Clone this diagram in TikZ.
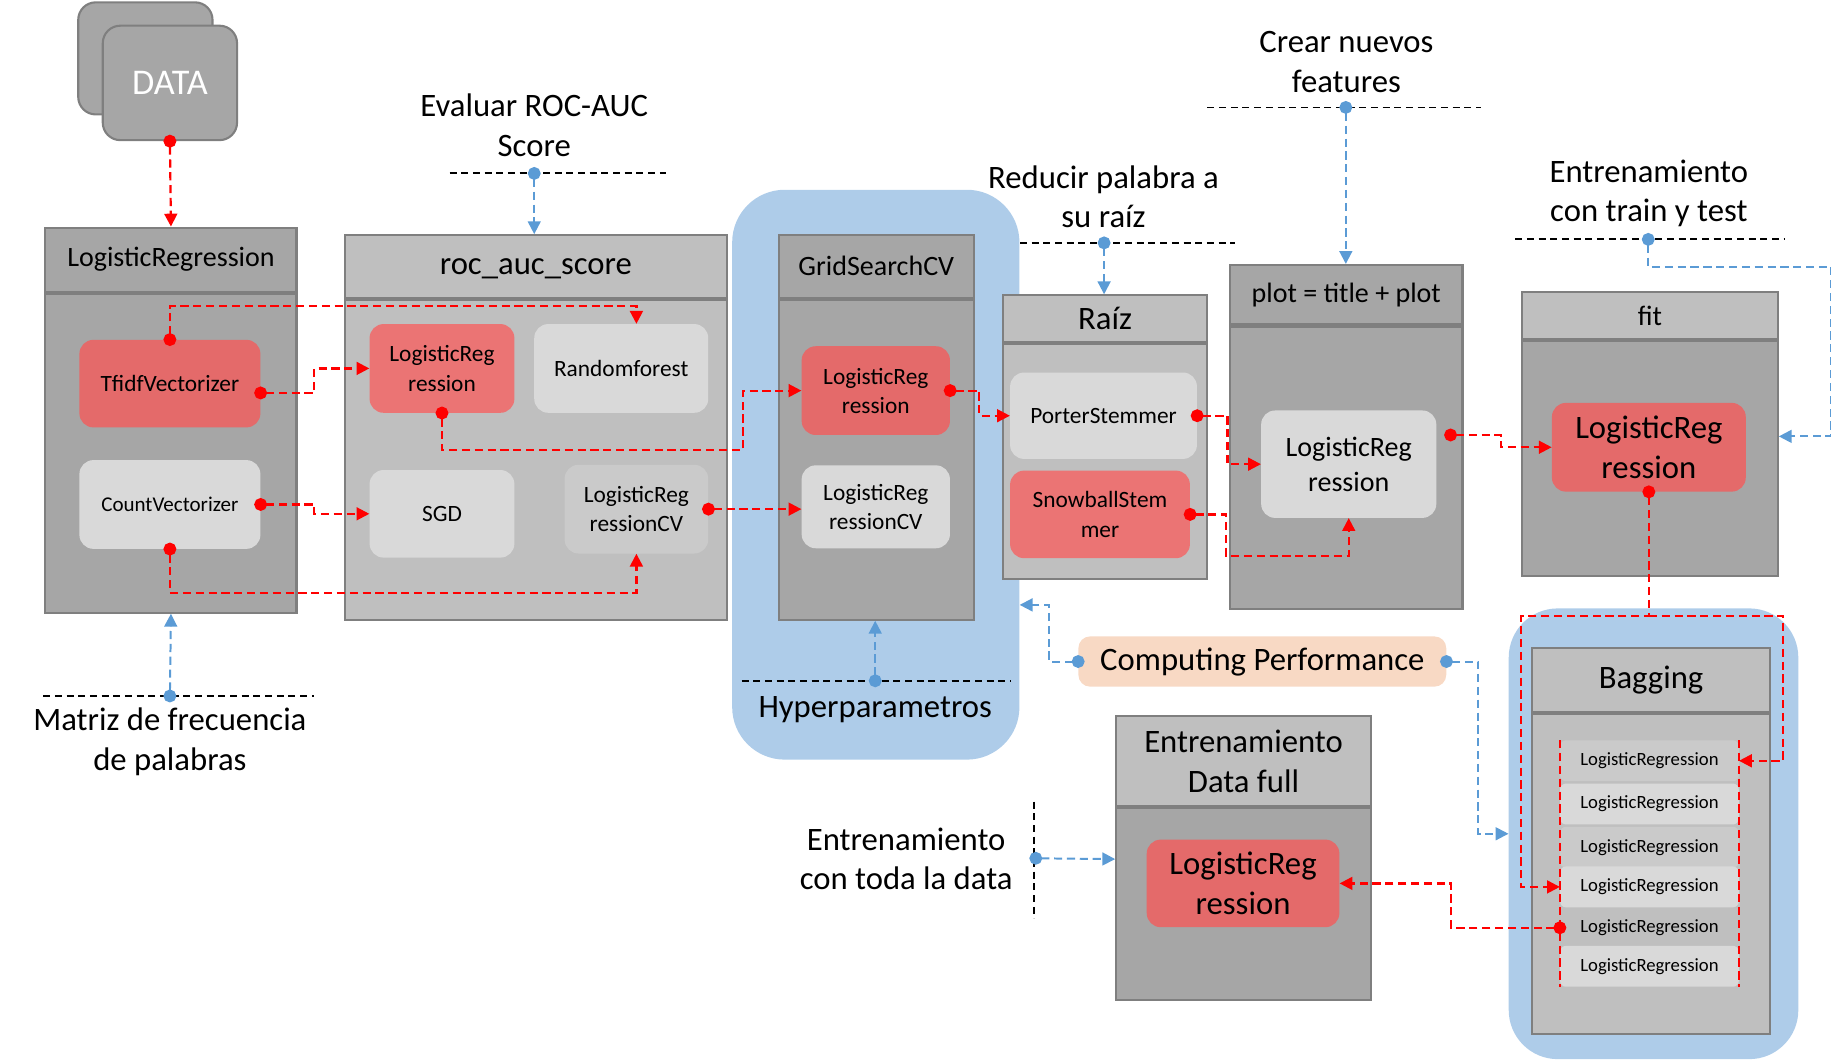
\documentclass[tikz,border=0pt]{standalone}
\usepackage{fontspec}
\setmainfont{Carlito}
\usepackage{xcolor}
\definecolor{edge}{RGB}{127,127,127}
\definecolor{darkpanel}{RGB}{166,166,166}
\definecolor{lightpanel}{RGB}{191,191,191}
\definecolor{boxgrey}{RGB}{217,217,217}
\definecolor{midgrey}{RGB}{202,202,202}
\definecolor{boxred}{RGB}{228,106,106}
\definecolor{boxredlight}{RGB}{235,116,116}
\definecolor{hyperblue}{RGB}{174,204,233}
\definecolor{linkblue}{RGB}{91,155,213}
\definecolor{linkred}{RGB}{255,0,0}
\definecolor{peach}{RGB}{248,217,196}
\usepackage{tikz}
\usetikzlibrary{arrows.meta,positioning,calc}

\begin{document}
\begin{tikzpicture}[
  x=1pt, y=-1pt,
  fbig/.style={font=\fontsize{28}{34}\selectfont},
  fhead/.style={font=\fontsize{24}{30}\selectfont},
  fbox/.style={font=\fontsize{20}{25}\selectfont},
  fitem/.style={font=\fontsize{16}{19}\selectfont},
  panel/.style={draw=edge, line width=1.8pt, align=center, inner sep=0pt},
  region/.style={fill=hyperblue, rounded corners=45pt},
  box/.style={rounded corners=12pt, align=center, inner sep=2pt},
  item/.style={rounded corners=5pt, minimum width=153, minimum height=35, fitem, inner sep=0pt},
  lbl/.style={fbig, align=center},
  guide/.style={draw=black, line width=1.6pt, dash pattern=on 6pt off 4pt},
  rlink/.style={draw=linkred, line width=1.9pt, dash pattern=on 7pt off 4pt},
  blink/.style={draw=linkblue, line width=1.7pt, dash pattern=on 7pt off 4pt},
  dotarrow/.style={arrows={Circle[length=11pt]-Triangle[length=11pt,width=11pt]}, shorten <=-5.5pt},
  endtip/.style={arrows={-Triangle[length=11pt,width=11pt]}}
]
\useasboundingbox (0,0) rectangle (1568,908);

% blue areas
\node[region, minimum width=246, minimum height=488] (hyp) at (750,406.5) {};
\node[region, rounded corners=42pt, minimum width=248, minimum height=386] (bagR) at (1416,714) {};

% data
\node[panel, fill=darkpanel, rounded corners=15pt, minimum width=115, minimum height=96] (dataBack) at (124.5,50) {};
\node[panel, fill=darkpanel, rounded corners=15pt, minimum width=115, minimum height=98, text=white, font=\fontsize{31}{36}\selectfont] (data) at (145.5,71) {DATA};

% LogisticRegression
\node[panel, fill=darkpanel, fhead, minimum width=215, minimum height=55, anchor=north west] (lrH) at (38,194) {LogisticRegression};
\node[panel, fill=darkpanel, minimum width=215, minimum height=273, below=0pt of lrH] (lrB) {};
\node[box, fill=boxred, fbox, minimum width=155, minimum height=75] (tfidf) at (145.5,328.5) {TfidfVectorizer};
\node[box, fill=boxgrey, font=\fontsize{18}{22}\selectfont, minimum width=155, minimum height=76] (count) at (145.5,432) {CountVectorizer};

% roc_auc_score
\node[panel, fill=lightpanel, fbig, text depth=0pt, minimum width=327, minimum height=54, anchor=north west] (rocH) at (294.5,200.5) {roc\_auc\_score};
\node[panel, fill=lightpanel, minimum width=327, minimum height=274, below=0pt of rocH] (rocB) {};
\node[box, fill=boxredlight, fbox, minimum width=124, minimum height=76] (rocLR) at (378.5,315.5) {LogisticReg\\ression};
\node[box, fill=boxgrey, fbox, minimum width=149, minimum height=76] (rf) at (532,315.5) {Randomforest};
\node[box, fill=boxgrey, fbox, minimum width=124, minimum height=75] (sgd) at (378.5,440) {SGD};
\node[box, fill=midgrey, fbox, minimum width=123, minimum height=76] (rocCV) at (545,436) {LogisticReg\\ressionCV};

% GridSearchCV
\node[panel, fill=darkpanel, fhead, minimum width=167, minimum height=54, anchor=north west] (gridH) at (666,200) {GridSearchCV};
\node[panel, fill=darkpanel, minimum width=167, minimum height=274, below=0pt of gridH] (gridB) {};
\node[box, fill=boxred, fbox, minimum width=127, minimum height=76] (gridLR) at (750,334.5) {LogisticReg\\ression};
\node[box, fill=boxgrey, fbox, minimum width=127, minimum height=71] (gridCV) at (750,434) {LogisticReg\\ressionCV};

% Raiz
\node[panel, fill=lightpanel, fbig, minimum width=175, minimum height=40, anchor=north west] (raizH) at (858,252) {Raíz};
\node[panel, fill=lightpanel, minimum width=175, minimum height=201, below=0pt of raizH] (raizB) {};
\node[box, fill=boxgrey, fbox, minimum width=160, minimum height=74] (porter) at (945,356) {PorterStemmer};
\node[box, fill=boxredlight, fbox, minimum width=154, minimum height=75] (snow) at (942,440.5) {SnowballStem\\mer};

% plot
\node[panel, fill=darkpanel, fhead, minimum width=199, minimum height=51, anchor=north west] (plotH) at (1052.5,226) {plot = title + plot};
\node[panel, fill=darkpanel, minimum width=199, minimum height=242, below=0pt of plotH] (plotB) {};
\node[box, fill=boxgrey, fhead, minimum width=150, minimum height=92] (plotLR) at (1155,397.5) {LogisticReg\\ression};

% fit
\node[panel, fill=lightpanel, fhead, minimum width=219, minimum height=40, anchor=north west] (fitH) at (1302.5,249.5) {fit};
\node[panel, fill=darkpanel, minimum width=219, minimum height=201, below=0pt of fitH] (fitB) {};
\node[box, fill=boxred, fbig, minimum width=166, minimum height=76] (fitLR) at (1412,383) {LogisticReg\\ression};

% Bagging
\node[panel, fill=lightpanel, fbig, minimum width=204, minimum height=55, anchor=north west] (bagH) at (1311,554) {Bagging};
\node[panel, fill=lightpanel, minimum width=204, minimum height=274, below=0pt of bagH] (bagB) {};
\node[item, fill=midgrey] (bag1) at (1412.5,651.5) {LogisticRegression};
\node[item, fill=boxgrey] (bag2) at (1412.5,688.5) {LogisticRegression};
\node[item, fill=midgrey] (bag3) at (1412.5,725.5) {LogisticRegression};
\node[item, fill=boxgrey] (bag4) at (1412.5,759.5) {LogisticRegression};
\node[item] (bag5) at (1412.5,794.5) {LogisticRegression};
\node[item, fill=boxgrey] (bag6) at (1412.5,827.5) {LogisticRegression};

% Entrenamiento Data full
\node[panel, fill=lightpanel, fbig, minimum width=218, minimum height=77, anchor=north west] (fullH) at (955,612.5) {Entrenamiento\\Data full};
\node[panel, fill=darkpanel, minimum width=218, minimum height=164, below=0pt of fullH] (fullB) {};
\node[box, fill=boxred, fbig, minimum width=165, minimum height=75] (fullLR) at (1064.5,756.5) {LogisticReg\\ression};

\node[box, fill=peach, fbig, rounded corners=10pt, minimum width=315, minimum height=43] (cp) at (1081,566.5) {Computing Performance};

% notes
\node[lbl] (matriz) at (145.5,635) {Matriz de frecuencia\\de palabras};
\node[lbl] (evaluar) at (457.5,107.5) {Evaluar ROC-AUC\\Score};
\node[lbl] (reducir) at (945,168.5) {Reducir palabra a\\su raíz};
\node[lbl] (crear) at (1153,53) {Crear nuevos\\features};
\node[lbl] (trainTest) at (1412,165.5) {Entrenamiento\\con train y test};
\node[lbl] (todaData) at (776,735.5) {Entrenamiento\\con toda la data};
\node[fbig] (hyperTxt) at (749.5,607.5) {Hyperparametros};

\draw[guide] (37,596) -- (268.5,596);
\draw[guide] (385,148.5) -- (570.5,148.5);
\draw[guide] (873.5,208) -- (1058,208);
\draw[guide] (1034,92) -- (1268.5,92);
\draw[guide] (1297.5,205) -- (1528.5,205);
\draw[guide] (635,583) -- (866,583);
\draw[guide] (885.5,686.5) -- (885.5,786.5);

\coordinate (matrizDot) at (145.5,596);
\coordinate (evalDot) at (457.5,148.5);
\coordinate (raizDot) at (945.5,208);
\coordinate (crearDot) at (1152.5,92);
\coordinate (trainDot) at (1411.5,205);
\coordinate (hyperDot) at (749.5,583);
\coordinate (todaDot) at (887,735);

% blue links
\draw[blink, dotarrow] (matrizDot) -- (lrB.south);
\draw[blink, dotarrow] (evalDot) -- (evalDot |- rocH.north);
\draw[blink, dotarrow] (raizDot) -- (raizDot |- raizH.north);
\draw[blink, dotarrow] (crearDot) -- (crearDot |- plotH.north);
\draw[blink, dotarrow] (trainDot) -- ++(0,23.5) -| ($(fitB.east)+(45,-19)$) -- ($(fitB.east)+(0,-19)$);
\draw[blink, dotarrow] (hyperDot) -- (hyperDot |- gridB.south);
\draw[blink, dotarrow] (cp.west) -- ++(-25,0) |- ($(hyp.east)+(0,111.5)$);
\draw[blink, dotarrow] (cp.east) -- ++(27,0) |- (bagR.west);
\draw[blink, dotarrow] (todaDot) -- ($(fullB.west)+(0,-38.5)$);

% red links
\draw[rlink, dotarrow] (data.south) -- (lrH.north);
\draw[rlink, dotarrow] (tfidf.north) -- ++(0,-28.5) -| ($(rf.north)+(13,0)$);
\draw[rlink, dotarrow] ($(tfidf.east)+(0,8)$) -- ++(46,0) |- (rocLR.west);
\draw[rlink, dotarrow] (count.east) -- ++(46,0) |- (sgd.west);
\draw[rlink, dotarrow] (count.south) -- ++(0,37.5) -| (rocCV.south);
\draw[rlink, dotarrow] (rocLR.south) -- ++(0,31.5) -| ($(gridLR.west)+(-50,0)$) -- (gridLR.west);
\draw[rlink, dotarrow] (rocCV.east) -- (rocCV.east -| gridCV.west);
\draw[rlink, dotarrow] (gridLR.east) -- ++(25,0) |- (porter.west);
\draw[rlink, dotarrow] (porter.east) -- ++(26,0) |- (plotLR.west);
\draw[rlink, dotarrow] (snow.east) -- ++(31,0) -- ++(0,35.5) -| (plotLR.south);
\draw[rlink, dotarrow] ($(plotLR.east)+(12,-25)$) -- ++(43,0) |- (fitLR.west);
\coordinate (forkL) at (1302.5,527.5);
\coordinate (forkR) at (1527,527.5);
\draw[rlink, dotarrow] (fitLR.south) -- (fitLR.south |- forkL) -- (forkL) |- (bag4.west);
\draw[rlink, endtip] (fitLR.south |- forkR) -- (forkR) |- (bag1.east);
\draw[rlink, dotarrow] (bag5.west) -- ++(-93,0) |- (fullLR.east);
\draw[rlink] (bag1.north west) -- (bag6.south west);
\draw[rlink] (bag1.north east) -- (bag6.south east);
\end{tikzpicture}
\end{document}
